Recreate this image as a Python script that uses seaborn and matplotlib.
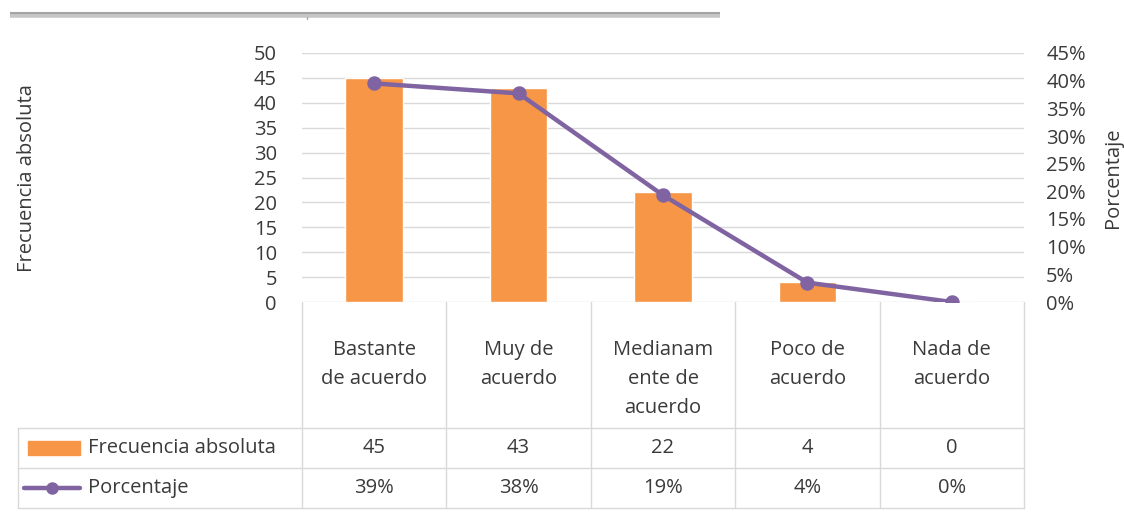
import matplotlib
matplotlib.use("Agg")
import pandas as pd
import matplotlib.pyplot as plt
from matplotlib.lines import Line2D
from matplotlib.patches import Rectangle
from matplotlib.transforms import Affine2D
import seaborn as sns

# Datos
categorias = ["Bastante\nde acuerdo", "Muy de\nacuerdo", "Medianam\nente de\nacuerdo",
              "Poco de\nacuerdo", "Nada de\nacuerdo"]
frecuencia = [45, 43, 22, 4, 0]
porcentaje = [0.395, 0.377, 0.193, 0.035, 0.0]
porcentaje_txt = ["39%", "38%", "19%", "4%", "0%"]

df = pd.DataFrame({"categoria": categorias, "frecuencia": frecuencia, "porcentaje": porcentaje})

naranja = "#F79646"
morado = "#8064A2"
texto = "#3a3a3a"
rejilla = "#D9D9D9"
fs = 14.5

sns.set_theme(style="white")
plt.rcParams["font.family"] = ["Open Sans", "DejaVu Sans"]

W, H = 1124, 512
fig = plt.figure(figsize=(W / 100, H / 100), dpi=100)

# area del grafico en pixeles
x0, x1, y_top, y_bot = 302, 1024, 53, 302
ax = fig.add_axes([x0 / W, 1 - y_bot / H, (x1 - x0) / W, (y_bot - y_top) / H])

sns.barplot(data=df, x="categoria", y="frecuencia", color=naranja, width=0.4,
            saturation=1, ax=ax)
ax.set_ylim(0, 50)
ax.set_yticks(range(0, 51, 5))
ax.set_xlabel("")
ax.set_ylabel("")
ax.tick_params(axis="x", labelbottom=False, length=0)
ax.yaxis.grid(True, color=rejilla, lw=1)
ax.set_axisbelow(True)
for s in ax.spines.values():
    s.set_visible(False)
ax.tick_params(axis="y", length=0, pad=18, labelsize=fs, labelcolor=texto)

ax2 = ax.twinx()
sns.pointplot(data=df, x="categoria", y="porcentaje", color=morado, markers="o",
              markersize=8, linewidth=3.2, ax=ax2)
ax2.set_ylim(0, 0.45)
ax2.set_yticks([i / 100 for i in range(0, 46, 5)])
ax2.set_yticklabels([f"{i}%" for i in range(0, 46, 5)])
ax2.set_xlabel("")
ax2.set_ylabel("")
for s in ax2.spines.values():
    s.set_visible(False)
ax2.tick_params(axis="y", length=0, pad=16, labelsize=fs, labelcolor=texto)
ax2.tick_params(axis="x", labelbottom=False, length=0)

# etiquetas de ejes
fig.text(27 / W, 1 - 178 / H, "Frecuencia absoluta", rotation=90, ha="center", va="center",
         fontsize=fs, color=texto)
fig.text(1113 / W, 1 - 178 / H, "Porcentaje", rotation=90, ha="center", va="center",
         fontsize=fs, color=texto)

# tabla de datos, coordenadas en pixeles desde arriba a la izquierda
px = Affine2D().scale(1 / W, -1 / H).translate(0, 1) + fig.transFigure


def linea(xs, ys, **kw):
    fig.add_artist(Line2D(xs, ys, transform=px, **kw))


def txt(x, y, s, **kw):
    fig.text(x, y, s, transform=px, fontsize=fs, color=texto, **kw)


cols = [x0 + i * (x1 - x0) / len(categorias) for i in range(len(categorias) + 1)]
for xc in cols:
    linea([xc, xc], [y_bot, 508], color=rejilla, lw=1)
linea([18, 18], [428, 508], color=rejilla, lw=1)
for yr in [428, 468, 508]:
    linea([18, x1], [yr, yr], color=rejilla, lw=1)

for i, cat in enumerate(categorias):
    cx = (cols[i] + cols[i + 1]) / 2
    txt(cx, 340, cat, ha="center", va="top", linespacing=1.6)
    txt(cx, 448, str(frecuencia[i]), ha="center", va="center")
    txt(cx, 488, porcentaje_txt[i], ha="center", va="center")

fig.add_artist(Rectangle((28, 441), 52, 14, transform=px, color=naranja))
txt(88, 448, "Frecuencia absoluta", ha="left", va="center")
linea([24, 80], [488, 488], color=morado, lw=3.2)
linea([52], [488], color=morado, marker="o", ms=8)
txt(88, 488, "Porcentaje", ha="left", va="center")

# sombra superior de la captura
linea([10, 720], [15, 15], color="#b8b8b8", lw=4, alpha=0.8, solid_capstyle="butt")
linea([10, 720], [13, 13], color="#8a8a8a", lw=1.5, alpha=0.6, solid_capstyle="butt")
linea([307, 307], [17, 19], color="#aaaaaa", lw=1)

fig.savefig("out.png", dpi=100)
